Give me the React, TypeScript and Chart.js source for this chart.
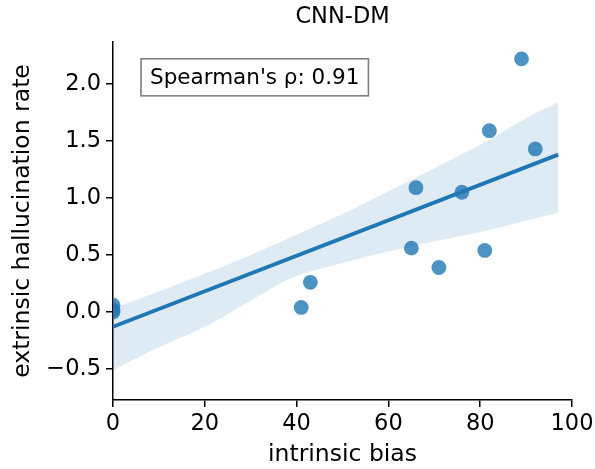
import React, { useEffect, useRef } from "react";
import { Chart, registerables } from "chart.js";

Chart.register(...registerables);

const TITLE = "CNN-DM";
const X_LABEL = "intrinsic bias";
const Y_LABEL = "extrinsic hallucination rate";
const ANNOTATION = "Spearman's ρ: 0.91";

// scatter points
const biasX = [0, 0, 0, 41, 43, 65, 66, 71, 76, 81, 82, 89, 92];
const rateY = [0.06, 0.02, 0.0, 0.04, 0.26, 0.56, 1.09, 0.39, 1.05, 0.54, 1.59, 2.22, 1.43];

// regression line
const fitX = [0, 97];
const fitY = [-0.13, 1.38];

// confidence band
const bandX = [0, 10, 21, 30, 39, 50, 60, 70, 82, 90, 97];
const bandUpper = [0.03, 0.18, 0.35, 0.5, 0.66, 0.86, 1.06, 1.26, 1.51, 1.7, 1.84];
const bandLower = [-0.51, -0.31, -0.11, 0.1, 0.3, 0.43, 0.53, 0.62, 0.72, 0.8, 0.87];

// axes
const xTicks = [0, 20, 40, 60, 80, 100];
const yTicks = [-0.5, 0, 0.5, 1.0, 1.5, 2.0];
const X_MIN = 0;
const X_MAX = 100;
const Y_MIN = -0.772;
const Y_MAX = 2.368;

const BLUE = "#1f77b4";
const FONT = "'DejaVu Sans', sans-serif";

const annotationPlugin = {
  id: "spearmanBox",
  afterDraw(chart: any) {
    const { ctx, chartArea } = chart;
    const w = chartArea.right - chartArea.left;
    const h = chartArea.bottom - chartArea.top;
    ctx.save();
    ctx.font = `21.5px ${FONT}`;
    const tw = ctx.measureText(ANNOTATION).width;
    const padX = 9;
    const boxW = tw + padX * 2;
    const boxH = 37;
    const bx = chartArea.left + w * 0.061;
    const by = chartArea.top + h * 0.047;
    ctx.fillStyle = "#ffffff";
    ctx.fillRect(bx, by, boxW, boxH);
    ctx.strokeStyle = "#808080";
    ctx.lineWidth = 1.6;
    ctx.strokeRect(bx, by, boxW, boxH);
    ctx.fillStyle = "#000";
    ctx.textBaseline = "middle";
    ctx.textAlign = "left";
    ctx.fillText(ANNOTATION, bx + padX, by + boxH / 2 + 1);
    ctx.restore();
  },
};

export default function App() {
  const ref = useRef<HTMLCanvasElement | null>(null);
  useEffect(() => {
    if (!ref.current) return;
    const scatterPts = biasX.map((x, i) => ({ x, y: rateY[i] }));
    const fitPts = fitX.map((x, i) => ({ x, y: fitY[i] }));
    const upperPts = bandX.map((x, i) => ({ x, y: bandUpper[i] }));
    const lowerPts = bandX.map((x, i) => ({ x, y: bandLower[i] }));

    const chart = new Chart(ref.current, {
      type: "scatter",
      data: {
        datasets: [
          {
            data: fitPts,
            showLine: true,
            borderColor: BLUE,
            borderWidth: 3.8,
            pointRadius: 0,
            fill: false,
          } as any,
          {
            data: upperPts,
            showLine: true,
            borderWidth: 0,
            borderColor: "rgba(0,0,0,0)",
            pointRadius: 0,
            tension: 0.3,
            cubicInterpolationMode: "monotone",
            fill: "+1",
            backgroundColor: "rgba(31,119,180,0.15)",
          } as any,
          {
            data: lowerPts,
            showLine: true,
            borderWidth: 0,
            borderColor: "rgba(0,0,0,0)",
            pointRadius: 0,
            tension: 0.3,
            cubicInterpolationMode: "monotone",
            fill: false,
          } as any,
          {
            data: scatterPts,
            pointRadius: 7.4,
            pointBorderWidth: 0,
            pointBackgroundColor: "rgba(31,119,180,0.8)",
            pointBorderColor: "rgba(31,119,180,0.8)",
            clip: 0,
          } as any,
        ],
      },
      options: {
        animation: false,
        responsive: false,
        events: [],
        layout: { padding: { left: 0, right: 23, top: 0, bottom: 0 } },
        plugins: {
          legend: { display: false },
          tooltip: { enabled: false },
          title: {
            display: true,
            text: TITLE,
            fullSize: false,
            color: "#000",
            font: { family: FONT, size: 22.5, weight: "normal" },
            padding: { top: 4, bottom: 11 },
          } as any,
        },
        scales: {
          x: {
            type: "linear",
            min: X_MIN,
            max: X_MAX,
            afterBuildTicks: (s: any) => {
              s.ticks = xTicks.map((v) => ({ value: v }));
            },
            afterFit: (s: any) => {
              s.height = 69;
              s.paddingRight = 0;
              s.paddingLeft = 0;
            },
            ticks: {
              color: "#000",
              font: { family: FONT, size: 22.5 },
              padding: 4,
              maxRotation: 0,
              callback: (v: any) => String(v),
            },
            grid: {
              display: true,
              drawOnChartArea: false,
              drawTicks: true,
              tickLength: 7,
              color: "#000",
              lineWidth: 1.5,
            },
            border: { display: true, color: "#000", width: 1.5 },
            title: {
              display: true,
              text: X_LABEL,
              color: "#000",
              font: { family: FONT, size: 23.5 },
              padding: { top: 2, bottom: 0 },
            },
          },
          y: {
            type: "linear",
            min: Y_MIN,
            max: Y_MAX,
            afterBuildTicks: (s: any) => {
              s.ticks = yTicks.map((v) => ({ value: v }));
            },
            afterFit: (s: any) => {
              s.width = 113;
            },
            ticks: {
              color: "#000",
              font: { family: FONT, size: 22.5 },
              padding: 5,
              callback: (v: any) => Number(v).toFixed(1).replace("-", "\u2212"),
            },
            grid: {
              display: true,
              drawOnChartArea: false,
              drawTicks: true,
              tickLength: 7,
              color: "#000",
              lineWidth: 1.5,
            },
            border: { display: true, color: "#000", width: 1.5 },
            title: {
              display: true,
              text: Y_LABEL,
              color: "#000",
              font: { family: FONT, size: 23.5 },
              padding: { top: 9, bottom: 0 },
            },
          },
        },
      },
      plugins: [annotationPlugin],
    });
    return () => chart.destroy();
  }, []);

  return (
    <canvas
      ref={ref}
      width={595}
      height={469}
      style={{ position: "absolute", left: 0, top: 0, width: 595, height: 469 }}
    />
  );
}
